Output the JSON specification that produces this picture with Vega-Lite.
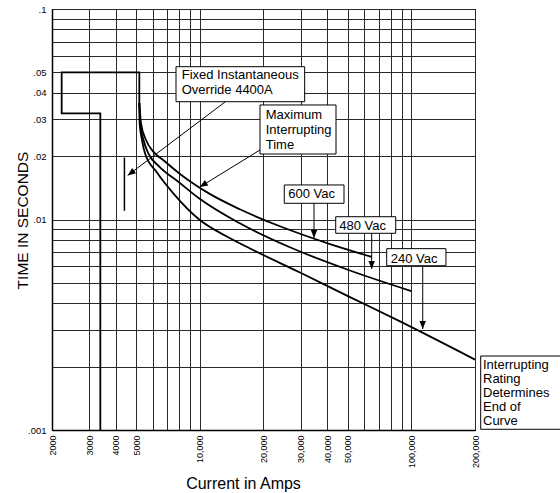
{
  "$schema": "https://vega.github.io/schema/vega-lite/v6.json",
  "autosize": {"type": "none"},
  "width": 423,
  "height": 421,
  "padding": {"left": 52, "top": 9, "right": 85, "bottom": 63},
  "background": "white",
  "config": {
    "view": {"stroke": "black", "strokeWidth": 1},
    "font": "Liberation Sans",
    "axis": {"labelFont": "Liberation Sans", "titleFont": "Liberation Sans"}
  },
  "datasets": {
    "box": [
      {"i": 0, "a": 3385, "t": 0.001},
      {"i": 1, "a": 3385, "t": 0.03195},
      {"i": 2, "a": 2222, "t": 0.03195},
      {"i": 3, "a": 2222, "t": 0.05},
      {"i": 4, "a": 5175, "t": 0.05},
      {"i": 5, "a": 5175, "t": 0.03575}
    ],
    "curves": [
      {"s": "600 Vac", "i": 0, "a": 5175, "t": 0.03575},
      {"s": "600 Vac", "i": 1, "a": 5269, "t": 0.02873},
      {"s": "600 Vac", "i": 2, "a": 5566, "t": 0.02385},
      {"s": "600 Vac", "i": 3, "a": 6026, "t": 0.021},
      {"s": "600 Vac", "i": 4, "a": 6792, "t": 0.01897},
      {"s": "600 Vac", "i": 5, "a": 8353, "t": 0.01601},
      {"s": "600 Vac", "i": 6, "a": 11085, "t": 0.01327},
      {"s": "600 Vac", "i": 7, "a": 15370, "t": 0.01121},
      {"s": "600 Vac", "i": 8, "a": 23760, "t": 0.00931},
      {"s": "600 Vac", "i": 9, "a": 40940, "t": 0.00766},
      {"s": "600 Vac", "i": 10, "a": 64940, "t": 0.00664},
      {"s": "480 Vac", "i": 0, "a": 5175, "t": 0.03575},
      {"s": "480 Vac", "i": 1, "a": 5224, "t": 0.02873},
      {"s": "480 Vac", "i": 2, "a": 5416, "t": 0.02385},
      {"s": "480 Vac", "i": 3, "a": 5706, "t": 0.02063},
      {"s": "480 Vac", "i": 4, "a": 6431, "t": 0.01785},
      {"s": "480 Vac", "i": 5, "a": 7912, "t": 0.01512},
      {"s": "480 Vac", "i": 6, "a": 9942, "t": 0.01258},
      {"s": "480 Vac", "i": 7, "a": 15370, "t": 0.00962},
      {"s": "480 Vac", "i": 8, "a": 26490, "t": 0.0074},
      {"s": "480 Vac", "i": 9, "a": 50890, "t": 0.00574},
      {"s": "480 Vac", "i": 10, "a": 100000, "t": 0.00457},
      {"s": "240 Vac", "i": 0, "a": 5175, "t": 0.03575},
      {"s": "240 Vac", "i": 1, "a": 5190, "t": 0.02873},
      {"s": "240 Vac", "i": 2, "a": 5328, "t": 0.02385},
      {"s": "240 Vac", "i": 3, "a": 5505, "t": 0.02063},
      {"s": "240 Vac", "i": 4, "a": 6272, "t": 0.01673},
      {"s": "240 Vac", "i": 5, "a": 7491, "t": 0.01332},
      {"s": "240 Vac", "i": 6, "a": 10000, "t": 0.00995},
      {"s": "240 Vac", "i": 7, "a": 13152, "t": 0.00839},
      {"s": "240 Vac", "i": 8, "a": 17270, "t": 0.00728},
      {"s": "240 Vac", "i": 9, "a": 29770, "t": 0.0056},
      {"s": "240 Vac", "i": 10, "a": 51290, "t": 0.00428},
      {"s": "240 Vac", "i": 11, "a": 88420, "t": 0.00328},
      {"s": "240 Vac", "i": 12, "a": 200000, "t": 0.00216}
    ],
    "override": [
      {"a": 4400, "t": 0.0197, "t2": 0.011}
    ],
    "arrows": [
      {"name": "fixed", "a": 13150, "t": 0.03615, "a2": 4560, "t2": 0.0162},
      {"name": "max", "a": 19250, "t": 0.02139, "a2": 10000, "t2": 0.01427},
      {"name": "600", "a": 34660, "t": 0.01194, "a2": 34660, "t2": 0.00817},
      {"name": "480", "a": 64940, "t": 0.0086, "a2": 64940, "t2": 0.00582},
      {"name": "240", "a": 113200, "t": 0.00603, "a2": 113200, "t2": 0.00302}
    ],
    "heads": [
      {"name": "fixed", "a": 4560, "t": 0.0162},
      {"name": "max", "a": 10000, "t": 0.01427},
      {"name": "600", "a": 34660, "t": 0.00817},
      {"name": "480", "a": 64940, "t": 0.00582},
      {"name": "240", "a": 113200, "t": 0.00302}
    ],
    "boxes": [
      {"a": 7716, "a2": 31310, "t": 0.0532, "t2": 0.03627},
      {"a": 19250, "a2": 44040, "t": 0.035, "t2": 0.02047},
      {"a": 25080, "a2": 48050, "t": 0.01459, "t2": 0.01194},
      {"a": 43900, "a2": 84370, "t": 0.01031, "t2": 0.0086},
      {"a": 76480, "a2": 145800, "t": 0.00727, "t2": 0.00603},
      {"a": 212800, "a2": 520000, "t": 0.002246, "t2": 0.001008}
    ],
    "texts": [
      {"label": "Fixed Instantaneous", "a": 8209, "t": 0.04634},
      {"label": "Override 4400A", "a": 8209, "t": 0.03946},
      {"label": "Maximum", "a": 20490, "t": 0.02992},
      {"label": "Interrupting", "a": 20490, "t": 0.02548},
      {"label": "Time", "a": 20490, "t": 0.0217},
      {"label": "600 Vac", "a": 26200, "t": 0.0126},
      {"label": "480 Vac", "a": 45630, "t": 0.00892},
      {"label": "240 Vac", "a": 79880, "t": 0.00623},
      {"label": "Interrupting", "a": 218200, "t": 0.001942},
      {"label": "Rating", "a": 218200, "t": 0.001667},
      {"label": "Determines", "a": 218200, "t": 0.00143},
      {"label": "End of", "a": 218200, "t": 0.001227},
      {"label": "Curve", "a": 218200, "t": 0.001053}
    ]
  },
  "encoding": {
    "x": {
      "field": "a",
      "type": "quantitative",
      "scale": {"type": "log", "domain": [2000, 200000], "nice": false},
      "axis": {
        "title": "Current in Amps",
        "titleFontSize": 16,
        "titleFontWeight": "normal",
        "titleColor": "black",
        "titleX": 191,
        "titleY": 58,
        "titleAlign": "center",
        "titleBaseline": "alphabetic",
        "values": [2000, 3000, 4000, 5000, 6000, 7000, 8000, 9000, 10000, 20000, 30000, 40000, 50000, 60000, 70000, 80000, 90000, 100000, 200000],
        "labelExpr": "indexof([2000,3000,4000,5000,10000,20000,30000,40000,50000,100000,200000], datum.value) < 0 ? '' : (datum.value < 10000 ? format(datum.value, 'd') : format(datum.value, ',d'))",
        "labelAngle": -90,
        "labelFontSize": 9,
        "labelColor": "black",
        "labelPadding": 5,
        "labelFlush": false,
        "labelOverlap": false,
        "labelBound": false,
        "tickSize": 0,
        "grid": true,
        "gridColor": "#2a2a2a",
        "gridWidth": 1,
        "gridOpacity": 1,
        "domainColor": "black",
        "domainWidth": 1.5
      }
    },
    "y": {
      "field": "t",
      "type": "quantitative",
      "scale": {"type": "log", "domain": [0.001, 0.1], "nice": false},
      "axis": {
        "title": "TIME IN SECONDS",
        "titleFontSize": 15.5,
        "titleFontWeight": "normal",
        "titleColor": "black",
        "titleX": -25,
        "titleY": 211,
        "titleAngle": -90,
        "titleAlign": "center",
        "titleBaseline": "alphabetic",
        "values": [0.001, 0.002, 0.003, 0.004, 0.005, 0.006, 0.007, 0.008, 0.009, 0.01, 0.02, 0.03, 0.04, 0.05, 0.06, 0.07, 0.08, 0.09, 0.1],
        "labelExpr": "indexof([0.001,0.01,0.02,0.03,0.04,0.05,0.1], datum.value) < 0 ? '' : substring(format(datum.value, '~g'), 1)",
        "labelFontSize": 9.5,
        "labelColor": "black",
        "labelPadding": 6,
        "labelOverlap": false,
        "labelBound": false,
        "labelFlush": false,
        "tickSize": 0,
        "grid": true,
        "gridColor": "#2a2a2a",
        "gridWidth": 1,
        "gridOpacity": 1,
        "domainColor": "black",
        "domainWidth": 1.5
      }
    }
  },
  "layer": [
    {
      "data": {"name": "box"},
      "mark": {"type": "line", "color": "black", "strokeWidth": 1.8, "interpolate": "linear"},
      "encoding": {"order": {"field": "i", "type": "quantitative"}}
    },
    {
      "data": {"name": "curves"},
      "mark": {"type": "line", "color": "black", "strokeWidth": 1.8, "interpolate": "monotone"},
      "encoding": {
        "detail": {"field": "s", "type": "nominal"},
        "order": {"field": "i", "type": "quantitative"}
      }
    },
    {
      "data": {"name": "override"},
      "mark": {"type": "rule", "color": "black", "strokeWidth": 1.5},
      "encoding": {"y2": {"field": "t2"}}
    },
    {
      "data": {"name": "boxes"},
      "mark": {"type": "rect", "fill": "white", "stroke": "black", "strokeWidth": 1},
      "encoding": {"x2": {"field": "a2"}, "y2": {"field": "t2"}}
    },
    {
      "data": {"name": "texts"},
      "mark": {"type": "text", "align": "left", "baseline": "alphabetic", "fontSize": 13, "font": "Liberation Sans", "color": "black"},
      "encoding": {"text": {"field": "label", "type": "nominal"}}
    },
    {
      "data": {"name": "arrows"},
      "mark": {"type": "rule", "color": "black", "strokeWidth": 1},
      "encoding": {"x2": {"field": "a2"}, "y2": {"field": "t2"}}
    },
    {
      "data": {"name": "heads"},
      "transform": [{"filter": "datum.name != 'fixed' && datum.name != 'max'"}],
      "mark": {"type": "point", "shape": "M0,0L-0.4,-1L0.4,-1Z", "filled": true, "size": 256, "color": "black", "opacity": 1, "angle": 0}
    },
    {
      "data": {"name": "heads"},
      "transform": [{"filter": "datum.name == 'fixed'"}],
      "mark": {"type": "point", "shape": "M0,0L-0.4,-1L0.4,-1Z", "filled": true, "size": 256, "color": "black", "opacity": 1, "angle": 53}
    },
    {
      "data": {"name": "heads"},
      "transform": [{"filter": "datum.name == 'max'"}],
      "mark": {"type": "point", "shape": "M0,0L-0.4,-1L0.4,-1Z", "filled": true, "size": 256, "color": "black", "opacity": 1, "angle": 58}
    }
  ]
}
